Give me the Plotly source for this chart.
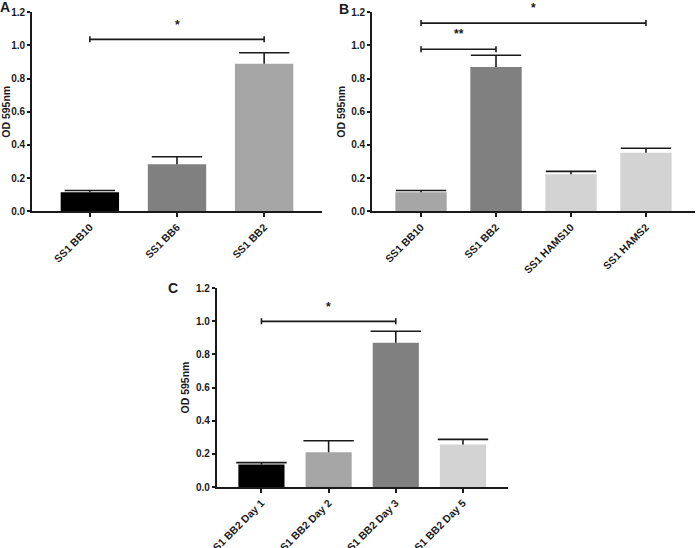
import plotly.graph_objects as go

# ---------------- data ----------------
a_labels = ["SS1 BB10", "SS1 BB6", "SS1 BB2"]
a_values = [0.115, 0.283, 0.890]
a_errors = [0.010, 0.046, 0.066]

b_labels = ["SS1 BB10", "SS1 BB2", "SS1 HAMS10", "SS1 HAMS2"]
b_values = [0.115, 0.870, 0.224, 0.353]
b_errors = [0.010, 0.071, 0.017, 0.027]

c_labels = ["SS1 BB2 Day 1", "SS1 BB2 Day 2", "SS1 BB2 Day 3", "SS1 BB2 Day 5"]
c_values = [0.135, 0.210, 0.870, 0.256]
c_errors = [0.012, 0.069, 0.069, 0.031]

# significance brackets: (from index, to index, y level, label)
a_sig = [(0, 2, 1.037, "*")]
b_sig = [(0, 1, 0.977, "**"), (0, 3, 1.135, "*")]
c_sig = [(0, 2, 0.999, "*")]

y_ticks = [0.0, 0.2, 0.4, 0.6, 0.8, 1.0, 1.2]

# ---------------- styles ----------------
BLACK = "#000000"
DARK = "#808080"
MID = "#a6a6a6"
LIGHT = "#d3d3d3"
a_colors = [BLACK, DARK, MID]
b_colors = [MID, DARK, LIGHT, LIGHT]
c_colors = [BLACK, MID, DARK, LIGHT]

W, H = 696, 548
FONT = "Liberation Sans, Arial, sans-serif"
INK = "#1a1a1a"

panels = [
    dict(name="A", labels=a_labels, values=a_values, errors=a_errors, colors=a_colors,
         sig=a_sig, x0=32, x1=322, ytop=12.3, ybot=211.3, pad=0.664, width=0.67,
         letter=(5, 7)),
    dict(name="B", labels=b_labels, values=b_values, errors=b_errors, colors=b_colors,
         sig=b_sig, x0=372, x1=695, ytop=12.3, ybot=211.3, pad=0.654, width=0.685,
         letter=(344, 9)),
    dict(name="C", labels=c_labels, values=c_values, errors=c_errors, colors=c_colors,
         sig=c_sig, x0=216.7, x1=507.7, ytop=288, ybot=487, pad=0.666, width=0.687,
         letter=(173, 288)),
]

fig = go.Figure()
annotations = []
shapes = []

for k, p in enumerate(panels):
    idx = "" if k == 0 else str(k + 1)
    xa, ya = "x" + idx, "y" + idx
    n = len(p["labels"])
    xs = list(range(n))
    fig.add_trace(go.Bar(
        x=xs, y=p["values"], xaxis=xa, yaxis=ya,
        marker=dict(color=p["colors"], line=dict(width=0)),
        width=p["width"],
        error_y=dict(type="data", symmetric=False, array=p["errors"],
                     arrayminus=[0] * n, color=INK, thickness=1.6, width=0),
        showlegend=False, hoverinfo="skip",
    ))
    # top caps of the error bars
    fig.add_trace(go.Scatter(
        x=xs, y=[v + e for v, e in zip(p["values"], p["errors"])],
        xaxis=xa, yaxis=ya, mode="markers",
        marker=dict(symbol="line-ew-open", size=36, color=INK,
                    line=dict(color=INK, width=1.6)),
        showlegend=False, hoverinfo="skip",
    ))
    layout_x = dict(
        domain=[p["x0"] / W, p["x1"] / W],
        anchor=ya, range=[-p["pad"], n - 1 + p["pad"]],
        tickmode="array", tickvals=xs, ticktext=p["labels"],
        tickangle=-45, ticks="outside", ticklen=4, tickwidth=1.5, tickcolor=INK,
        showline=True, linecolor=INK, linewidth=1.6,
        showgrid=False, zeroline=False, automargin=False,
        tickfont=dict(family=FONT, size=10.5, color=INK, weight="bold"),
    )
    layout_y = dict(
        domain=[1 - p["ybot"] / H, 1 - p["ytop"] / H],
        anchor=xa, range=[0, 1.2],
        tickmode="array", tickvals=y_ticks, ticktext=[f"{v:.1f}" for v in y_ticks],
        ticks="outside", ticklen=3, tickwidth=1.5, tickcolor=INK,
        showline=True, linecolor=INK, linewidth=1.6,
        showgrid=False, zeroline=False, automargin=False,
        tickfont=dict(family=FONT, size=10, color=INK, weight="bold"),
        title=dict(text="OD 595nm", standoff=4,
                   font=dict(family=FONT, size=10.5, color=INK, weight="bold")),
    )
    fig.update_layout(**{"xaxis" + idx: layout_x, "yaxis" + idx: layout_y})

    # significance brackets
    for (i, j, yv, lab) in p["sig"]:
        shapes.append(dict(type="line", xref=xa, yref=ya, x0=i, x1=j, y0=yv, y1=yv,
                           line=dict(color=INK, width=1.6)))
        for xx in (i, j):
            shapes.append(dict(type="line", xref=xa, yref=ya, x0=xx, x1=xx,
                               y0=yv - 0.018, y1=yv + 0.018,
                               line=dict(color=INK, width=1.6)))
        annotations.append(dict(xref=xa, yref=ya, x=(i + j) / 2, y=yv + 0.035,
                                text="<b>" + lab + "</b>", showarrow=False,
                                yanchor="bottom",
                                font=dict(family=FONT, size=12, color=INK)))

    # panel letter
    lx, ly = p["letter"]
    annotations.append(dict(xref="paper", yref="paper", x=lx / W, y=1 - ly / H,
                            text="<b>" + p["name"] + "</b>", showarrow=False,
                            xanchor="center", yanchor="middle",
                            font=dict(family=FONT, size=14, color=INK)))

fig.update_layout(
    width=W, height=H,
    margin=dict(l=0, r=0, t=0, b=0, autoexpand=False),
    paper_bgcolor="white", plot_bgcolor="white",
    annotations=annotations, shapes=shapes,
)

fig.write_html("out.html",
               config={"displayModeBar": False},
               post_script="document.body.style.margin='0';document.body.style.padding='0';")
